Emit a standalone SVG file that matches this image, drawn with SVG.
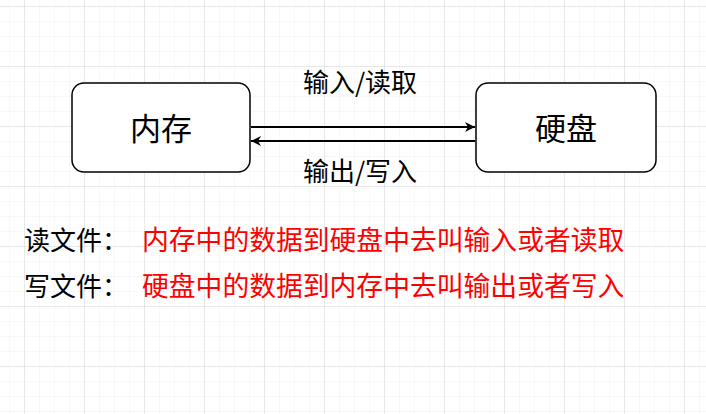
<svg xmlns="http://www.w3.org/2000/svg" width="706" height="414" viewBox="0 0 706 414">
<defs>
<pattern id="minor" x="9" y="6" width="15" height="15" patternUnits="userSpaceOnUse"><path d="M0 0V15M0 0H15" stroke="#f1f1f1" stroke-width="1" fill="none"/></pattern>
<pattern id="major" x="24" y="6" width="60" height="60" patternUnits="userSpaceOnUse"><path d="M0 0V60M0 0H60" stroke="#d8d8d8" stroke-width="1" fill="none"/></pattern>
<marker id="ah" viewBox="0 0 10 10" refX="10" refY="5" markerWidth="10" markerHeight="10" markerUnits="userSpaceOnUse" orient="auto"><path d="M0 0L10 5L0 10L3 5Z" fill="#000"/></marker>
<style>
.box{fill:#fff;stroke:#000;stroke-width:1.5}
.t{font-family:"Noto Sans CJK SC","Noto Sans",sans-serif;fill:#000}
.r{fill:#ff0000}
.c{stroke:#000;stroke-width:2;fill:none;marker-end:url(#ah)}
</style>
</defs>
<rect width="706" height="414" fill="#fff"/>
<rect width="706" height="414" fill="url(#minor)"/>
<rect width="706" height="414" fill="url(#major)"/>
<g id="mem"><rect class="box" x="72" y="83" width="178" height="89" rx="12"/><text class="t" x="161" y="140" font-size="31" text-anchor="middle">内存</text></g>
<g id="disk"><rect class="box" x="476" y="83" width="180" height="89" rx="12"/><text class="t" x="566" y="140" font-size="31" text-anchor="middle">硬盘</text></g>
<g id="connectors">
<line class="c" x1="251" y1="127" x2="475" y2="127"/>
<line class="c" x1="475" y1="141" x2="251" y2="141"/>
</g>
<text class="t" x="360" y="92" font-size="26" text-anchor="middle">输入/读取</text>
<text class="t" x="360" y="181" font-size="26" text-anchor="middle">输出/写入</text>
<text class="t" x="24" y="250" font-size="26">读文件：</text>
<text class="t r" x="142" y="250" font-size="26.8">内存中的数据到硬盘中去叫输入或者读取</text>
<text class="t" x="24" y="296" font-size="26">写文件：</text>
<text class="t r" x="142" y="296" font-size="26.8">硬盘中的数据到内存中去叫输出或者写入</text>
</svg>
